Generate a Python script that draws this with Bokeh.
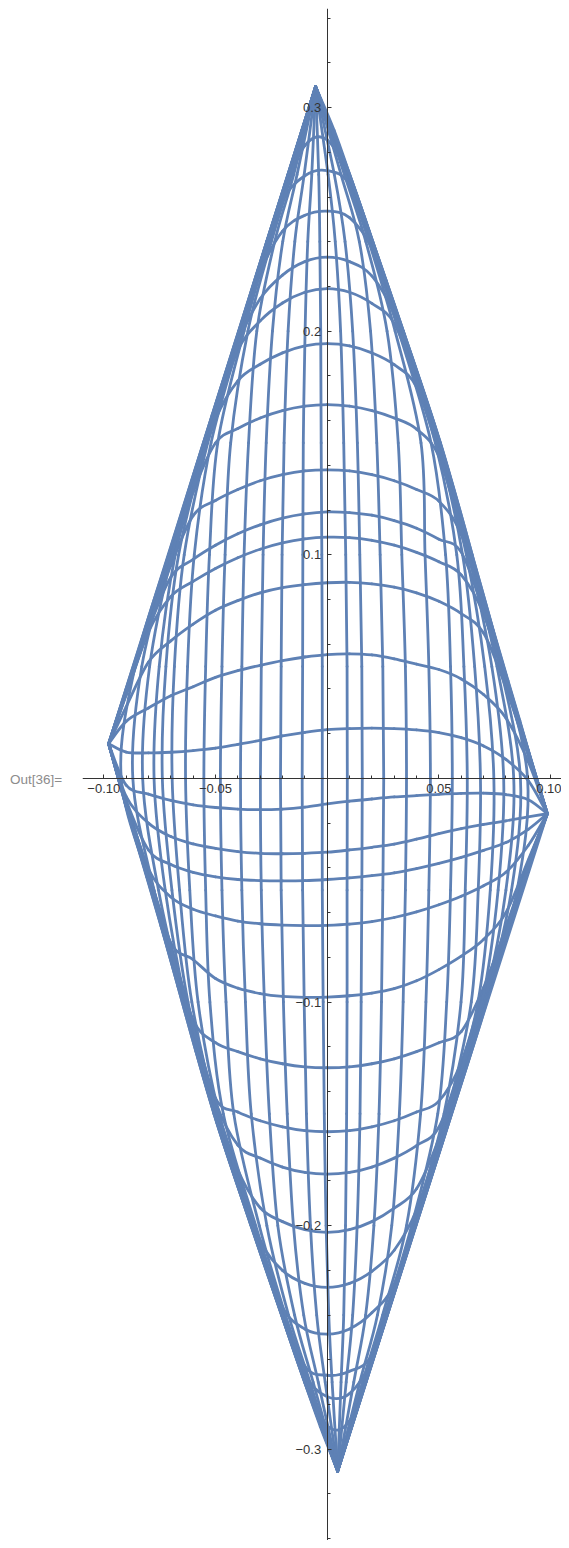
from bokeh.plotting import figure
from bokeh.layouts import row
from bokeh.models import Range1d, FixedTicker, CustomJSTickFormatter, ColumnDataSource, Div
from bokeh.embed import file_html
from bokeh.resources import INLINE

# ---- tips of the mesh ----
LEFT_TIP = (-0.0978, 0.0155)
RIGHT_TIP = (0.0985, -0.0158)
TOP_TIP = (-0.0052, 0.3094)
BOTTOM_TIP = (0.0047, -0.3098)

# ---- "horizontal" mesh curves: y read at these x columns ----
H_X = [-0.09, -0.08, -0.07, -0.06, -0.05, -0.04, -0.03, -0.02, -0.01, 0.0,
       0.01, 0.02, 0.03, 0.04, 0.05, 0.06, 0.07, 0.08, 0.09]
H_UPPER = [
    [0.0400, 0.0714, 0.1027, 0.1345, 0.1662, 0.1979, 0.2297, 0.2605, 0.2830, 0.2856, 0.2680, 0.2402, 0.2111, 0.1815, 0.1507, 0.1166, 0.0809, 0.0464, 0.0125],
    [0.0397, 0.0708, 0.1017, 0.1335, 0.1652, 0.1969, 0.2287, 0.2580, 0.2695, 0.2718, 0.2655, 0.2392, 0.2101, 0.1805, 0.1497, 0.1156, 0.0801, 0.0459, 0.0123],
    [0.0394, 0.0702, 0.1007, 0.1325, 0.1642, 0.1959, 0.2262, 0.2447, 0.2518, 0.2537, 0.2508, 0.2370, 0.2091, 0.1795, 0.1487, 0.1146, 0.0793, 0.0454, 0.0121],
    [0.0391, 0.0696, 0.0997, 0.1315, 0.1632, 0.1945, 0.2145, 0.2251, 0.2311, 0.2331, 0.2311, 0.2247, 0.2075, 0.1785, 0.1477, 0.1136, 0.0785, 0.0449, 0.0119],
    [0.0388, 0.0690, 0.0987, 0.1305, 0.1622, 0.1915, 0.2046, 0.2126, 0.2174, 0.2190, 0.2174, 0.2124, 0.2035, 0.1775, 0.1467, 0.1126, 0.0777, 0.0444, 0.0117],
    [0.0385, 0.0684, 0.0977, 0.1295, 0.1605, 0.1778, 0.1852, 0.1903, 0.1934, 0.1944, 0.1934, 0.1903, 0.1850, 0.1750, 0.1457, 0.1116, 0.0769, 0.0439, 0.0115],
    [0.0382, 0.0678, 0.0967, 0.1280, 0.1500, 0.1565, 0.1612, 0.1645, 0.1665, 0.1672, 0.1665, 0.1645, 0.1612, 0.1562, 0.1440, 0.1106, 0.0761, 0.0434, 0.0113],
    [0.0379, 0.0672, 0.0952, 0.1175, 0.1243, 0.1292, 0.1331, 0.1358, 0.1375, 0.1380, 0.1375, 0.1358, 0.1331, 0.1292, 0.1240, 0.1090, 0.0753, 0.0429, 0.0111],
    [0.0376, 0.0666, 0.0900, 0.0980, 0.1043, 0.1094, 0.1134, 0.1164, 0.1183, 0.1192, 0.1189, 0.1177, 0.1153, 0.1119, 0.1070, 0.1012, 0.0745, 0.0424, 0.0109],
    [0.0373, 0.0655, 0.0813, 0.0881, 0.0939, 0.0987, 0.1025, 0.1053, 0.1071, 0.1079, 0.1077, 0.1065, 0.1043, 0.1011, 0.0969, 0.0910, 0.0735, 0.0419, 0.0107],
    [0.0320, 0.0520, 0.0615, 0.0690, 0.0752, 0.0795, 0.0830, 0.0853, 0.0867, 0.0875, 0.0877, 0.0870, 0.0855, 0.0830, 0.0792, 0.0737, 0.0650, 0.0405, 0.0104],
    [0.0255, 0.0315, 0.0370, 0.0410, 0.0452, 0.0482, 0.0506, 0.0527, 0.0543, 0.0554, 0.0557, 0.0552, 0.0535, 0.0511, 0.0487, 0.0445, 0.0375, 0.0270, 0.0075],
    [0.0118, 0.0114, 0.0117, 0.0124, 0.0135, 0.0152, 0.0170, 0.0190, 0.0206, 0.0218, 0.0223, 0.0225, 0.0223, 0.0217, 0.0205, 0.0182, 0.0145, 0.0085, -0.0010],
]
H_LOWER = [
    [-0.0030, -0.0070, -0.0098, -0.0118, -0.0130, -0.0137, -0.0140, -0.0137, -0.0128, -0.0114, -0.0102, -0.0092, -0.0083, -0.0077, -0.0071, -0.0067, -0.0066, -0.0072, -0.0095],
    [-0.0080, -0.0200, -0.0260, -0.0293, -0.0313, -0.0327, -0.0335, -0.0337, -0.0335, -0.0330, -0.0320, -0.0308, -0.0294, -0.0272, -0.0247, -0.0225, -0.0206, -0.0190, -0.0172],
    [-0.0098, -0.0320, -0.0385, -0.0420, -0.0440, -0.0452, -0.0457, -0.0458, -0.0457, -0.0452, -0.0445, -0.0435, -0.0422, -0.0403, -0.0380, -0.0353, -0.0322, -0.0287, -0.0228],
    [-0.0104, -0.0405, -0.0530, -0.0585, -0.0615, -0.0638, -0.0650, -0.0656, -0.0658, -0.0657, -0.0652, -0.0640, -0.0622, -0.0597, -0.0565, -0.0527, -0.0480, -0.0420, -0.0300],
    [-0.0107, -0.0419, -0.0735, -0.0810, -0.0895, -0.0938, -0.0962, -0.0975, -0.0979, -0.0978, -0.0972, -0.0960, -0.0940, -0.0905, -0.0855, -0.0795, -0.0720, -0.0600, -0.0365],
    [-0.0109, -0.0424, -0.0745, -0.1080, -0.1182, -0.1222, -0.1254, -0.1276, -0.1290, -0.1294, -0.1290, -0.1276, -0.1254, -0.1222, -0.1182, -0.1132, -0.0935, -0.0666, -0.0376],
    [-0.0111, -0.0429, -0.0753, -0.1096, -0.1430, -0.1492, -0.1531, -0.1558, -0.1575, -0.1580, -0.1575, -0.1558, -0.1531, -0.1492, -0.1443, -0.1270, -0.0950, -0.0672, -0.0379],
    [-0.0113, -0.0434, -0.0761, -0.1106, -0.1447, -0.1640, -0.1698, -0.1738, -0.1762, -0.1770, -0.1762, -0.1738, -0.1698, -0.1642, -0.1560, -0.1280, -0.0967, -0.0678, -0.0382],
    [-0.0115, -0.0439, -0.0769, -0.1116, -0.1457, -0.1750, -0.1920, -0.1982, -0.2018, -0.2030, -0.2018, -0.1982, -0.1922, -0.1835, -0.1610, -0.1295, -0.0977, -0.0684, -0.0385],
    [-0.0117, -0.0444, -0.0777, -0.1126, -0.1467, -0.1775, -0.2066, -0.2200, -0.2258, -0.2276, -0.2258, -0.2204, -0.2110, -0.1930, -0.1622, -0.1305, -0.0987, -0.0690, -0.0388],
    [-0.0119, -0.0449, -0.0785, -0.1136, -0.1477, -0.1785, -0.2081, -0.2365, -0.2462, -0.2485, -0.2462, -0.2390, -0.2262, -0.1949, -0.1632, -0.1315, -0.0997, -0.0696, -0.0391],
    [-0.0121, -0.0454, -0.0793, -0.1146, -0.1487, -0.1795, -0.2091, -0.2375, -0.2628, -0.2669, -0.2651, -0.2578, -0.2277, -0.1959, -0.1642, -0.1325, -0.1007, -0.0702, -0.0394],
    [-0.0123, -0.0459, -0.0801, -0.1156, -0.1497, -0.1805, -0.2101, -0.2392, -0.2668, -0.2765, -0.2751, -0.2600, -0.2287, -0.1969, -0.1652, -0.1335, -0.1017, -0.0708, -0.0397],
    [-0.0125, -0.0464, -0.0809, -0.1166, -0.1507, -0.1815, -0.2111, -0.2402, -0.2683, -0.2895, -0.2873, -0.2610, -0.2297, -0.1979, -0.1662, -0.1345, -0.1027, -0.0714, -0.0400],
]

# ---- "vertical" mesh curves: x of each of the 27 curves, read at these y rows ----
V_Y = [0.27, 0.24, 0.20, 0.15, 0.10, 0.05, 0.0, -0.05, -0.10, -0.15, -0.20, -0.24, -0.27]
V_ROWS = [
    [-0.0176, -0.0175, -0.0175, -0.0174, -0.0173, -0.0172, -0.0170, -0.0166, -0.0160, -0.0150, -0.0135, -0.0103, -0.0069, -0.0038, 0.0004, 0.0032, 0.0062, 0.0077, 0.0085, 0.0090, 0.0093, 0.0095, 0.0097, 0.0098, 0.0099, 0.0100, 0.0101],
    [-0.0271, -0.0270, -0.0270, -0.0269, -0.0268, -0.0267, -0.0264, -0.0259, -0.0250, -0.0235, -0.0199, -0.0145, -0.0087, -0.0033, 0.0036, 0.0080, 0.0144, 0.0173, 0.0187, 0.0194, 0.0198, 0.0200, 0.0201, 0.0202, 0.0203, 0.0204, 0.0204],
    [-0.0396, -0.0395, -0.0394, -0.0392, -0.0390, -0.0387, -0.0381, -0.0372, -0.0355, -0.0315, -0.0245, -0.0175, -0.0099, -0.0029, 0.0060, 0.0114, 0.0194, 0.0268, 0.0304, 0.0320, 0.0328, 0.0333, 0.0336, 0.0338, 0.0339, 0.0340, 0.0341],
    [-0.0554, -0.0553, -0.0551, -0.0548, -0.0543, -0.0535, -0.0520, -0.0490, -0.0432, -0.0352, -0.0273, -0.0193, -0.0107, -0.0027, 0.0074, 0.0135, 0.0222, 0.0318, 0.0420, 0.0465, 0.0484, 0.0494, 0.0499, 0.0502, 0.0504, 0.0506, 0.0507],
    [-0.0710, -0.0704, -0.0695, -0.0680, -0.0665, -0.0640, -0.0595, -0.0527, -0.0457, -0.0372, -0.0287, -0.0202, -0.0109, -0.0024, 0.0083, 0.0146, 0.0237, 0.0334, 0.0438, 0.0530, 0.0580, 0.0606, 0.0623, 0.0634, 0.0641, 0.0645, 0.0649],
    [-0.0860, -0.0830, -0.0795, -0.0752, -0.0722, -0.0684, -0.0625, -0.0544, -0.0471, -0.0382, -0.0295, -0.0206, -0.0110, -0.0022, 0.0089, 0.0155, 0.0249, 0.0350, 0.0455, 0.0552, 0.0612, 0.0660, 0.0705, 0.0737, 0.0760, 0.0775, 0.0785],
    [-0.0922, -0.0870, -0.0826, -0.0775, -0.0738, -0.0694, -0.0634, -0.0552, -0.0478, -0.0388, -0.0299, -0.0209, -0.0112, -0.0022, 0.0090, 0.0157, 0.0253, 0.0355, 0.0462, 0.0560, 0.0627, 0.0686, 0.0746, 0.0790, 0.0835, 0.0865, 0.0897],
    [-0.0786, -0.0775, -0.0755, -0.0725, -0.0695, -0.0661, -0.0615, -0.0544, -0.0471, -0.0382, -0.0295, -0.0206, -0.0110, -0.0022, 0.0089, 0.0155, 0.0249, 0.0350, 0.0455, 0.0552, 0.0618, 0.0676, 0.0730, 0.0765, 0.0800, 0.0825, 0.0850],
    [-0.0649, -0.0645, -0.0641, -0.0634, -0.0623, -0.0606, -0.0578, -0.0525, -0.0453, -0.0366, -0.0281, -0.0196, -0.0103, -0.0018, 0.0089, 0.0152, 0.0243, 0.0340, 0.0442, 0.0535, 0.0599, 0.0645, 0.0675, 0.0693, 0.0704, 0.0710, 0.0714],
    [-0.0507, -0.0506, -0.0504, -0.0502, -0.0499, -0.0494, -0.0484, -0.0465, -0.0418, -0.0340, -0.0259, -0.0179, -0.0093, -0.0013, 0.0087, 0.0147, 0.0232, 0.0323, 0.0418, 0.0495, 0.0523, 0.0538, 0.0547, 0.0552, 0.0555, 0.0556, 0.0557],
    [-0.0341, -0.0340, -0.0339, -0.0338, -0.0336, -0.0333, -0.0328, -0.0320, -0.0304, -0.0270, -0.0221, -0.0151, -0.0075, -0.0005, 0.0082, 0.0134, 0.0209, 0.0289, 0.0355, 0.0378, 0.0387, 0.0391, 0.0393, 0.0395, 0.0396, 0.0396, 0.0397],
    [-0.0204, -0.0204, -0.0203, -0.0202, -0.0201, -0.0200, -0.0198, -0.0194, -0.0187, -0.0173, -0.0146, -0.0105, -0.0047, 0.0007, 0.0074, 0.0114, 0.0172, 0.0225, 0.0248, 0.0258, 0.0263, 0.0265, 0.0267, 0.0268, 0.0268, 0.0269, 0.0269],
    [-0.0101, -0.0100, -0.0099, -0.0098, -0.0097, -0.0095, -0.0093, -0.0090, -0.0085, -0.0077, -0.0063, -0.0040, -0.0009, 0.0022, 0.0062, 0.0085, 0.0119, 0.0146, 0.0158, 0.0165, 0.0168, 0.0170, 0.0171, 0.0172, 0.0173, 0.0173, 0.0174],
]

# ---- outline of the mesh, one list per edge (tip to tip) ----
EDGE_UL_X = [-0.0978, -0.0515, -0.0052]
EDGE_UL_Y = [0.0155, 0.1625, 0.3094]
EDGE_UR_X = [-0.0052, 0.0031, 0.0110, 0.0187, 0.0264, 0.0345, 0.0415, 0.0493, 0.0588, 0.0668, 0.0744, 0.0809, 0.0862, 0.0905, 0.0985]
EDGE_UR_Y = [0.3094, 0.2898, 0.2674, 0.2450, 0.2227, 0.1988, 0.1780, 0.1541, 0.1220, 0.0930, 0.0661, 0.0438, 0.0259, 0.0110, -0.0158]
EDGE_LR_X = [0.0985, 0.0516, 0.0047]
EDGE_LR_Y = [-0.0158, -0.1628, -0.3098]
EDGE_LL_X = [0.0047, -0.0031, -0.0110, -0.0187, -0.0264, -0.0345, -0.0415, -0.0493, -0.0588, -0.0668, -0.0744, -0.0809, -0.0862, -0.0905, -0.0978]
EDGE_LL_Y = [-0.3098, -0.2898, -0.2674, -0.2450, -0.2227, -0.1988, -0.1780, -0.1541, -0.1220, -0.0930, -0.0661, -0.0438, -0.0259, -0.0110, 0.0155]

X_MAJOR = [-0.10, -0.05, 0.05, 0.10]
X_MINOR = [-0.10, -0.09, -0.08, -0.07, -0.06, -0.05, -0.04, -0.03, -0.02, -0.01,
           0.01, 0.02, 0.03, 0.04, 0.05, 0.06, 0.07, 0.08, 0.09, 0.10]
Y_MAJOR = [-0.3, -0.2, -0.1, 0.1, 0.2, 0.3]
Y_MINOR = [-0.34, -0.32, -0.28, -0.26, -0.24, -0.22, -0.18, -0.16, -0.14, -0.12, -0.08, -0.06,
           -0.04, -0.02, 0.02, 0.04, 0.06, 0.08, 0.12, 0.14, 0.16, 0.18, 0.22, 0.24, 0.26,
           0.28, 0.32, 0.34]

LINE_COLOR = "#5E81B5"

# ---------------------------------------------------------------
segs = dict(x0=[], y0=[], x1=[], y1=[], cx0=[], cy0=[], cx1=[], cy1=[])


def add_smooth(xs, ys):
    """Smooth curve through the given points, drawn as cubic Bezier pieces."""
    n = len(xs)
    for i in range(n - 1):
        a = max(i - 1, 0)
        d = min(i + 2, n - 1)
        segs["x0"].append(xs[i]); segs["y0"].append(ys[i])
        segs["x1"].append(xs[i + 1]); segs["y1"].append(ys[i + 1])
        segs["cx0"].append(xs[i] + (xs[i + 1] - xs[a]) / 6.0)
        segs["cy0"].append(ys[i] + (ys[i + 1] - ys[a]) / 6.0)
        segs["cx1"].append(xs[i + 1] - (xs[d] - xs[i]) / 6.0)
        segs["cy1"].append(ys[i + 1] - (ys[d] - ys[i]) / 6.0)


for r in H_UPPER + H_LOWER:
    add_smooth([LEFT_TIP[0]] + H_X + [RIGHT_TIP[0]], [LEFT_TIP[1]] + r + [RIGHT_TIP[1]])

for j in range(len(V_ROWS[0])):
    add_smooth([TOP_TIP[0]] + [r[j] for r in V_ROWS] + [BOTTOM_TIP[0]],
               [TOP_TIP[1]] + V_Y + [BOTTOM_TIP[1]])

for ex, ey in [(EDGE_UL_X, EDGE_UL_Y), (EDGE_UR_X, EDGE_UR_Y), (EDGE_LR_X, EDGE_LR_Y), (EDGE_LL_X, EDGE_LL_Y)]:
    add_smooth(ex, ey)

p = figure(width=487, height=1540, output_backend="svg", toolbar_location=None,
           x_range=Range1d(-0.10953, 0.10488), y_range=Range1d(-0.3408, 0.3443),
           min_border_left=8, min_border_right=0, min_border_top=8, min_border_bottom=0,
           margin=0)
p.outline_line_color = None
p.grid.visible = False
p.background_fill_color = "white"

p.bezier(x0="x0", y0="y0", x1="x1", y1="y1", cx0="cx0", cy0="cy0", cx1="cx1", cy1="cy1",
         source=ColumnDataSource(segs), line_color=LINE_COLOR, line_width=2.8, line_cap="round")

fmt_x = CustomJSTickFormatter(code='return (tick < 0 ? "\u2212" : "") + Math.abs(tick).toFixed(2);')
fmt_y = CustomJSTickFormatter(code='return (tick < 0 ? "\u2212" : "") + Math.abs(tick).toFixed(1);')

for ax, major, minor, fmt in [(p.xaxis[0], X_MAJOR, X_MINOR, fmt_x), (p.yaxis[0], Y_MAJOR, Y_MINOR, fmt_y)]:
    ax.fixed_location = 0
    ax.ticker = FixedTicker(ticks=major, minor_ticks=minor)
    ax.formatter = fmt
    ax.axis_line_color = "#333333"
    ax.axis_line_width = 1
    ax.major_tick_line_color = "#333333"
    ax.minor_tick_line_color = "#333333"
    ax.major_tick_in = 4
    ax.major_tick_out = 0
    ax.minor_tick_in = 3
    ax.minor_tick_out = 0
    ax.major_label_text_font = "Liberation Sans"
    ax.major_label_text_font_size = "13px"
    ax.major_label_text_color = "#333333"
    ax.major_label_standoff = 6

out_label = Div(text='<div style="margin-top:772px;margin-left:10px;color:#8c8c8c;'
                     'font-family:\'Liberation Sans\';font-size:13.5px;line-height:16px;'
                     'white-space:nowrap">Out[36]=</div>',
                width=74, height=1540, margin=0)

open("out.html", "w").write(file_html(row(out_label, p), INLINE))
